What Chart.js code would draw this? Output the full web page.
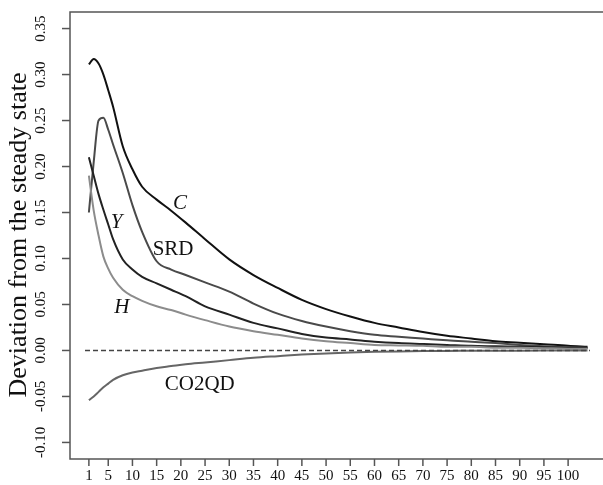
<!DOCTYPE html>
<html>
<head>
<meta charset="utf-8">
<script src="https://cdn.jsdelivr.net/npm/chart.js@4.4.1/dist/chart.umd.min.js"></script>
<style>
  html, body { margin: 0; padding: 0; background: #fff; overflow: hidden; }
  #wrap { width: 603px; height: 485px; }
</style>
</head>
<body>
<div id="wrap"><canvas id="chart" width="603" height="485"></canvas></div>
<script>
const periods = [1, 2, 3, 4, 5, 6, 8, 10, 12, 15, 18, 21, 25, 30, 35, 40, 45, 50, 55, 60, 65, 70, 75, 80, 85, 90, 95, 100, 104];

// Deviation from the steady state, per series
const cValues = [0.311, 0.317, 0.312, 0.300, 0.283, 0.265, 0.222, 0.197, 0.178, 0.164, 0.152, 0.139, 0.121, 0.099, 0.082, 0.068, 0.055, 0.045, 0.037, 0.030, 0.025, 0.020, 0.016, 0.013, 0.010, 0.0085, 0.0068, 0.005, 0.004];
const srdValues = [0.150, 0.205, 0.250, 0.253, 0.240, 0.224, 0.193, 0.158, 0.129, 0.097, 0.088, 0.082, 0.074, 0.064, 0.051, 0.040, 0.032, 0.026, 0.021, 0.017, 0.015, 0.013, 0.011, 0.0095, 0.008, 0.006, 0.0045, 0.0035, 0.003];
const yValues = [0.210, 0.190, 0.170, 0.153, 0.137, 0.121, 0.099, 0.088, 0.080, 0.073, 0.066, 0.059, 0.048, 0.039, 0.030, 0.024, 0.018, 0.014, 0.012, 0.0096, 0.008, 0.007, 0.006, 0.005, 0.0045, 0.004, 0.0035, 0.003, 0.003];
const hValues = [0.190, 0.152, 0.125, 0.102, 0.089, 0.079, 0.066, 0.059, 0.054, 0.048, 0.044, 0.039, 0.033, 0.026, 0.021, 0.017, 0.013, 0.010, 0.008, 0.006, 0.0055, 0.005, 0.004, 0.004, 0.003, 0.003, 0.0025, 0.002, 0.002];
const co2qdValues = [-0.054, -0.050, -0.045, -0.040, -0.036, -0.032, -0.027, -0.024, -0.022, -0.019, -0.017, -0.015, -0.013, -0.0105, -0.008, -0.0062, -0.0045, -0.0032, -0.0022, -0.0015, -0.001, -0.0007, -0.0005, -0.0004, -0.0003, -0.0002, -0.0001, 0, 0];

// Zero reference line
const zeroLineX = [0.2, 104.5];

// Axis ticks
const xTicks = [1, 5, 10, 15, 20, 25, 30, 35, 40, 45, 50, 55, 60, 65, 70, 75, 80, 85, 90, 95, 100];
const yTicks = [-0.10, -0.05, 0.00, 0.05, 0.10, 0.15, 0.20, 0.25, 0.30, 0.35];
const yTitle = 'Deviation from the steady state';

// Curve labels: text, italic, x, value
const curveLabels = [
  { text: 'C', italic: true, x: 19.8, y: 0.160 },
  { text: 'Y', italic: true, x: 6.7, y: 0.139 },
  { text: 'SRD', italic: false, x: 18.4, y: 0.110 },
  { text: 'H', italic: true, x: 7.8, y: 0.047 },
  { text: 'CO2QD', italic: false, x: 23.9, y: -0.037 },
];

const FONT = '"Liberation Serif", "Times New Roman", serif';

function series(values) {
  return values.map((v, i) => ({ x: periods[i], y: v }));
}

function lineSet(label, values, color) {
  return {
    label: label,
    data: series(values),
    borderColor: color,
    borderWidth: 2,
    pointRadius: 0,
    cubicInterpolationMode: 'monotone',
    fill: false,
  };
}

// Box, ticks and text drawn with the chart's own scales
const framePlugin = {
  id: 'frame',
  afterDraw(chart) {
    const ctx = chart.ctx;
    const xs = chart.scales.x;
    const ys = chart.scales.y;
    const area = chart.chartArea;
    ctx.save();

    // box (left, top, bottom)
    ctx.strokeStyle = '#555';
    ctx.lineWidth = 1.5;
    ctx.beginPath();
    ctx.moveTo(area.right + 5, area.top);
    ctx.lineTo(area.left, area.top);
    ctx.lineTo(area.left, area.bottom);
    ctx.lineTo(area.right + 5, area.bottom);
    ctx.stroke();

    // x ticks
    ctx.fillStyle = '#111';
    ctx.font = '15px ' + FONT;
    ctx.textAlign = 'center';
    ctx.textBaseline = 'middle';
    xTicks.forEach(t => {
      const px = xs.getPixelForValue(t);
      ctx.beginPath();
      ctx.moveTo(px, area.bottom);
      ctx.lineTo(px, area.bottom + 7);
      ctx.stroke();
      ctx.fillText(String(t), px, area.bottom + 17);
    });

    // y ticks, labels rotated
    yTicks.forEach(t => {
      const py = ys.getPixelForValue(t);
      ctx.beginPath();
      ctx.moveTo(area.left - 8, py);
      ctx.lineTo(area.left, py);
      ctx.stroke();
      ctx.save();
      ctx.translate(area.left - 29, py);
      ctx.rotate(-Math.PI / 2);
      ctx.fillText(t.toFixed(2), 0, 0);
      ctx.restore();
    });

    // y title
    ctx.save();
    ctx.font = '26px ' + FONT;
    ctx.translate(19, 235);
    ctx.rotate(-Math.PI / 2);
    ctx.fillText(yTitle, 0, 0);
    ctx.restore();

    // curve labels
    curveLabels.forEach(l => {
      ctx.font = (l.italic ? 'italic ' : '') + '21px ' + FONT;
      ctx.fillText(l.text, xs.getPixelForValue(l.x), ys.getPixelForValue(l.y));
    });

    ctx.restore();
  }
};

new Chart(document.getElementById('chart'), {
  type: 'line',
  data: {
    datasets: [
      {
        label: 'zero',
        data: zeroLineX.map(x => ({ x: x, y: 0 })),
        borderColor: '#444',
        borderWidth: 1.5,
        borderDash: [5, 3],
        pointRadius: 0,
      },
      lineSet('CO2QD', co2qdValues, '#666'),
      lineSet('H', hValues, '#8c8c8c'),
      lineSet('Y', yValues, '#222'),
      lineSet('SRD', srdValues, '#4a4a4a'),
      lineSet('C', cValues, '#111'),
    ],
  },
  options: {
    responsive: false,
    animation: false,
    layout: { padding: { left: 70, right: 1, top: 12, bottom: 26 } },
    plugins: {
      legend: { display: false },
      tooltip: { enabled: false },
    },
    scales: {
      x: { type: 'linear', min: -2.9, max: 107, display: false },
      y: { type: 'linear', min: -0.118, max: 0.368, display: false },
    },
  },
  plugins: [framePlugin],
});
</script>
</body>
</html>
